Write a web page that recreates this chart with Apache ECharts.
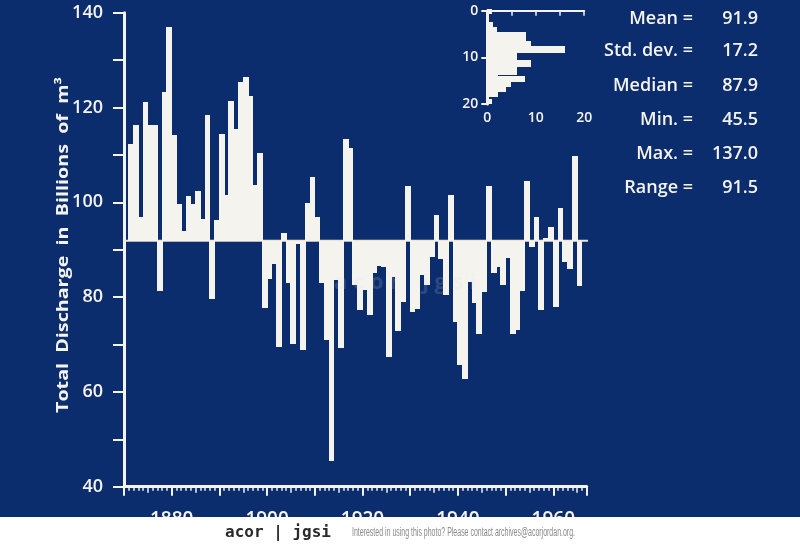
<!DOCTYPE html>
<html><head><meta charset="utf-8">
<script src="https://cdn.jsdelivr.net/npm/echarts@6/dist/echarts.min.js"></script>
<style>html,body{margin:0;padding:0;background:#0c2d6d;overflow:hidden}#c{width:800px;height:549px}</style>
</head><body><div id="c"></div>
<script>
// ---- data ----
const years = [1871,1872,1873,1874,1875,1876,1877,1878,1879,1880,
  1881,1882,1883,1884,1885,1886,1887,1888,1889,1890,
  1891,1892,1893,1894,1895,1896,1897,1898,1899,1900,
  1901,1902,1903,1904,1905,1906,1907,1908,1909,1910,
  1911,1912,1913,1914,1915,1916,1917,1918,1919,1920,
  1921,1922,1923,1924,1925,1926,1927,1928,1929,1930,
  1931,1932,1933,1934,1935,1936,1937,1938,1939,1940,
  1941,1942,1943,1944,1945,1946,1947,1948,1949,1950,
  1951,1952,1953,1954,1955,1956,1957,1958,1959,1960,
  1961,1962,1963,1964,1965];
const discharge = [112.2,116.4,96.8,121.2,116.4,116.4,81.3,123.3,137.0,114.3,
  99.7,94.0,101.3,99.7,102.3,96.4,118.5,79.7,96.2,114.5,
  101.5,121.3,115.5,125.4,126.4,122.4,103.6,110.4,77.6,83.9,
  86.9,69.5,93.5,82.9,70.2,91.2,68.8,99.9,105.4,97.0,
  83.0,70.9,45.5,83.7,69.2,113.3,111.4,82.5,77.2,81.5,
  76.3,85.0,86.5,86.3,67.4,84.3,72.8,79.0,103.4,76.9,
  77.5,84.7,82.5,88.5,97.3,88.1,80.4,101.6,74.7,65.6,
  62.8,83.1,78.8,72.2,81.0,103.4,85.0,86.4,82.6,88.3,
  72.2,73.0,81.2,104.5,90.6,97.0,77.2,92.5,94.8,77.9,
  98.9,87.4,86.0,109.7,82.3];
const meanValue = 91.9;
const yLabelValues = [40,60,80,100,120,140];
const xLabelValues = [1880,1900,1920,1940,1960];
const statLabels = ['Mean =','Std. dev. =','Median =','Min. =','Max. =','Range ='];
const statValues = ['91.9','17.2','87.9','45.5','137.0','91.5'];
// inset histogram (vertical class axis 0..20, horizontal count axis 0..20)
const histStart = [-0.3,2.57,3.57,4.71,6.64,7.71,9.0,10.71,12.0,13.57,14.0,15.21,16.29,17.36,19.14];
const histEnd   = [0.7,3.57,4.71,6.64,7.71,9.0,10.71,12.0,13.57,14.0,15.21,16.29,17.36,18.43,20.0];
const histCount = [1.0,1.2,2.1,8.1,9.1,16.2,6.2,9.1,6.2,2.3,7.9,5.0,4.0,2.3,1.0];
const histTickLabels = [0,10,20];

// ---- chart ----
const W = '#f4f3ee';
const FONT = '"Open Sans", "DejaVu Sans", sans-serif';
const chart = echarts.init(document.getElementById('c'), null, {renderer:'canvas'});

function measure(text, font){
  const c = document.createElement('canvas').getContext('2d');
  c.font = font; return c.measureText(text).width;
}
const footerText = 'Interested in using this photo? Please contact archives@acorjordan.org.';
const footerFont = '12px "Liberation Sans Narrow", "Liberation Sans", sans-serif';
const footerScale = 223 / measure(footerText, footerFont);
const yNameText = 'Total  Discharge  in  Billions  of  m\u00B3';
const yNameFont = 'bold 16px ' + FONT;
const yNameScale = 336 / measure(yNameText, yNameFont);

const graphics = [];
statLabels.forEach((s, i) => {
  const yc = [19, 51, 86, 120, 154, 188][i];
  graphics.push({type:'text', x:693, y:yc, style:{text:s, fill:W, font:'600 18px '+FONT, textAlign:'right', textVerticalAlign:'middle'}});
  graphics.push({type:'text', x:758, y:yc, style:{text:statValues[i], fill:W, font:'600 18px '+FONT, textAlign:'right', textVerticalAlign:'middle'}});
});
graphics.push({type:'text', x:63, y:245, rotation:Math.PI/2, scaleX:yNameScale,
  style:{text:yNameText, fill:W, font:yNameFont, textAlign:'center', textVerticalAlign:'middle'}});
graphics.push({type:'text', x:405, y:283, z:50,
  style:{text:'a c o r    j g s i', fill:'rgba(220,225,235,0.16)', font:'bold 22px '+FONT, textAlign:'center', textVerticalAlign:'middle'}});
graphics.push({type:'rect', x:0, y:517, z:100, shape:{width:800, height:32}, style:{fill:'#ffffff'}});
graphics.push({type:'text', x:278, y:533, z:101,
  style:{text:'acor | jgsi', fill:'#2a2a2a', font:'bold 16px "DejaVu Sans Mono", monospace', textAlign:'center', textVerticalAlign:'middle'}});
graphics.push({type:'text', x:352, y:533, z:101, scaleX:footerScale, originX:0, originY:0,
  style:{text:footerText, fill:'#8a8a8a', font:footerFont, textAlign:'left', textVerticalAlign:'middle'}});

const option = {
  backgroundColor:'#0c2d6d',
  animation:false,
  grid:[
    {left:124, right:213.3, top:12.7, bottom:62.3},
    {left:487.3, width:96.9, top:10.7, height:93.3}
  ],
  xAxis:[
    {type:'value', gridIndex:0, min:1870, max:1967, interval:10,
     axisLine:{show:true, lineStyle:{color:W, width:3}},
     axisTick:{show:true, length:9, lineStyle:{color:W, width:2}},
     minorTick:{show:true, splitNumber:10, length:4, lineStyle:{color:W, width:1.5}},
     splitLine:{show:false}, minorSplitLine:{show:false},
     axisLabel:{color:W, fontSize:19, fontWeight:600, fontFamily:FONT, margin:23,
       formatter:v => xLabelValues.includes(v) ? String(v) : ''}},
    {type:'value', gridIndex:0, position:'bottom', min:1870, max:1967, interval:5,
     axisLine:{show:false}, axisTick:{show:true, length:6, lineStyle:{color:W, width:1.5}},
     axisLabel:{show:false}, splitLine:{show:false}},
    {type:'value', gridIndex:1, min:0, max:20, interval:5,
     axisLine:{show:true, lineStyle:{color:W, width:2}},
     axisTick:{show:true, length:5, lineStyle:{color:W, width:1.5}},
     splitLine:{show:false},
     axisLabel:{color:W, fontSize:14, fontWeight:600, fontFamily:FONT, margin:7,
       formatter:v => histTickLabels.includes(v) ? String(v) : ''}}
  ],
  yAxis:[
    {type:'value', gridIndex:0, min:40, max:140, interval:10,
     axisLine:{show:true, lineStyle:{color:W, width:3}},
     axisTick:{show:true, length:11, lineStyle:{color:W, width:2}},
     splitLine:{show:false},
     axisLabel:{color:W, fontSize:18, fontWeight:600, fontFamily:FONT, margin:21,
       formatter:v => yLabelValues.includes(v) ? String(v) : ''}},
    {type:'value', gridIndex:1, min:0, max:20, interval:10, inverse:true,
     axisLine:{show:true, lineStyle:{color:W, width:3}},
     axisTick:{show:true, length:6, lineStyle:{color:W, width:2}},
     splitLine:{show:false},
     axisLabel:{color:W, fontSize:14, fontWeight:600, fontFamily:FONT, margin:9,
       formatter:v => histTickLabels.includes(v) ? String(v) : ''}}
  ],
  series:[
    {type:'line', xAxisIndex:0, yAxisIndex:0, clip:false, symbol:'none', z:1, silent:true,
     data:[[1870, meanValue],[1967.7, meanValue]],
     lineStyle:{color:'#f3e4d0', width:2}},
    {type:'custom', xAxisIndex:0, yAxisIndex:0, clip:false, z:3, silent:true,
     itemStyle:{opacity:1},
     data: years.map((y,i)=>[y, discharge[i]]),
     renderItem:(params, api) => {
       const yr = api.value(0), v = api.value(1);
       const a = api.coord([yr, meanValue]);
       const b = api.coord([yr+1, v]);
       const x0 = Math.floor(a[0]), x1 = Math.ceil(b[0]);
       const yTop = Math.round(Math.min(a[1], b[1])), yBot = Math.round(Math.max(a[1], b[1]));
       return {type:'rect', silent:true, shape:{x:x0, y:yTop, width:x1-x0, height:yBot-yTop},
               style:{fill:W, opacity:1, lineWidth:0}};
     }},
    {type:'custom', xAxisIndex:2, yAxisIndex:1, clip:false, z:3, silent:true,
     itemStyle:{opacity:1},
     data: histCount.map((c,i)=>[histStart[i], histEnd[i], c]),
     renderItem:(params, api) => {
       const s = api.value(0), e = api.value(1), c = api.value(2);
       const a = api.coord([0, s]);
       const b = api.coord([c, e]);
       const y0 = Math.floor(a[1]), y1 = Math.ceil(b[1]);
       return {type:'rect', silent:true, shape:{x:Math.round(a[0]), y:y0, width:Math.round(b[0]-a[0]), height:y1-y0},
               style:{fill:W, opacity:1, lineWidth:0}};
     }}
  ],
  graphic: graphics
};
chart.setOption(option);
</script>
</body></html>
